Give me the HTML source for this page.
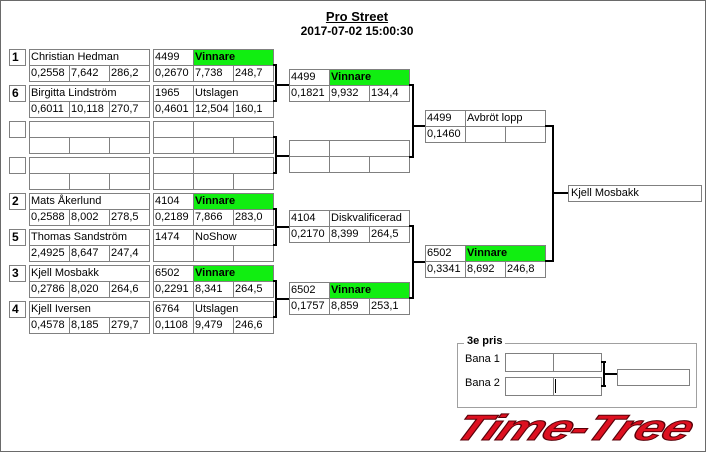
<!DOCTYPE html>
<html><head><meta charset="utf-8"><style>
body{margin:0;width:706px;height:452px;background:#fff;position:relative;overflow:hidden;font-family:"Liberation Sans",sans-serif}
#frame{position:absolute;left:0;top:0;width:706px;height:452px;box-sizing:border-box;border:1px solid #6a6a6a}
.c{position:absolute;border:1px solid #808080;box-sizing:border-box;height:17px;font-size:11px;line-height:15px;padding-left:1px;white-space:nowrap;overflow:hidden;color:#000;background:#fff}
.w{width:41px}.w2{width:81px}.wn{width:121px}
.g{background:#11ee11;font-weight:bold}
.s{width:17px;font-weight:bold;font-size:12px;padding-left:2px}
.v{position:absolute;background:#000;width:2px}
.h{position:absolute;background:#000;height:2px}
.t{position:absolute;font-size:12px;font-weight:bold;text-align:center;width:200px;left:257px}
</style></head><body>
<div id="frame"></div>
<div class="t" style="top:9px;text-decoration:underline;font-size:13px">Pro Street</div>
<div class="t" style="top:24px">2017-07-02 15:00:30</div>

<div class="c s" style="left:9px;top:49px">1</div>
<div class="c wn" style="left:29px;top:49px">Christian Hedman</div>
<div class="c w" style="left:29px;top:65px">0,2558</div><div class="c w" style="left:69px;top:65px">7,642</div><div class="c w" style="left:109px;top:65px">286,2</div>
<div class="c w" style="left:153px;top:49px">4499</div><div class="c w2 g" style="left:193px;top:49px">Vinnare</div>
<div class="c w" style="left:153px;top:65px">0,2670</div><div class="c w" style="left:193px;top:65px">7,738</div><div class="c w" style="left:233px;top:65px">248,7</div>
<div class="c s" style="left:9px;top:85px">6</div>
<div class="c wn" style="left:29px;top:85px">Birgitta Lindström</div>
<div class="c w" style="left:29px;top:101px">0,6011</div><div class="c w" style="left:69px;top:101px">10,118</div><div class="c w" style="left:109px;top:101px">270,7</div>
<div class="c w" style="left:153px;top:85px">1965</div><div class="c w2" style="left:193px;top:85px">Utslagen</div>
<div class="c w" style="left:153px;top:101px">0,4601</div><div class="c w" style="left:193px;top:101px">12,504</div><div class="c w" style="left:233px;top:101px">160,1</div>
<div class="c s" style="left:9px;top:121px"></div>
<div class="c wn" style="left:29px;top:121px"></div>
<div class="c w" style="left:29px;top:137px"></div><div class="c w" style="left:69px;top:137px"></div><div class="c w" style="left:109px;top:137px"></div>
<div class="c w" style="left:153px;top:121px"></div><div class="c w2" style="left:193px;top:121px"></div>
<div class="c w" style="left:153px;top:137px"></div><div class="c w" style="left:193px;top:137px"></div><div class="c w" style="left:233px;top:137px"></div>
<div class="c s" style="left:9px;top:157px"></div>
<div class="c wn" style="left:29px;top:157px"></div>
<div class="c w" style="left:29px;top:173px"></div><div class="c w" style="left:69px;top:173px"></div><div class="c w" style="left:109px;top:173px"></div>
<div class="c w" style="left:153px;top:157px"></div><div class="c w2" style="left:193px;top:157px"></div>
<div class="c w" style="left:153px;top:173px"></div><div class="c w" style="left:193px;top:173px"></div><div class="c w" style="left:233px;top:173px"></div>
<div class="c s" style="left:9px;top:193px">2</div>
<div class="c wn" style="left:29px;top:193px">Mats Åkerlund</div>
<div class="c w" style="left:29px;top:209px">0,2588</div><div class="c w" style="left:69px;top:209px">8,002</div><div class="c w" style="left:109px;top:209px">278,5</div>
<div class="c w" style="left:153px;top:193px">4104</div><div class="c w2 g" style="left:193px;top:193px">Vinnare</div>
<div class="c w" style="left:153px;top:209px">0,2189</div><div class="c w" style="left:193px;top:209px">7,866</div><div class="c w" style="left:233px;top:209px">283,0</div>
<div class="c s" style="left:9px;top:229px">5</div>
<div class="c wn" style="left:29px;top:229px">Thomas Sandström</div>
<div class="c w" style="left:29px;top:245px">2,4925</div><div class="c w" style="left:69px;top:245px">8,647</div><div class="c w" style="left:109px;top:245px">247,4</div>
<div class="c w" style="left:153px;top:229px">1474</div><div class="c w2" style="left:193px;top:229px">NoShow</div>
<div class="c w" style="left:153px;top:245px"></div><div class="c w" style="left:193px;top:245px"></div><div class="c w" style="left:233px;top:245px"></div>
<div class="c s" style="left:9px;top:265px">3</div>
<div class="c wn" style="left:29px;top:265px">Kjell Mosbakk</div>
<div class="c w" style="left:29px;top:281px">0,2786</div><div class="c w" style="left:69px;top:281px">8,020</div><div class="c w" style="left:109px;top:281px">264,6</div>
<div class="c w" style="left:153px;top:265px">6502</div><div class="c w2 g" style="left:193px;top:265px">Vinnare</div>
<div class="c w" style="left:153px;top:281px">0,2291</div><div class="c w" style="left:193px;top:281px">8,341</div><div class="c w" style="left:233px;top:281px">264,5</div>
<div class="c s" style="left:9px;top:301px">4</div>
<div class="c wn" style="left:29px;top:301px">Kjell Iversen</div>
<div class="c w" style="left:29px;top:317px">0,4578</div><div class="c w" style="left:69px;top:317px">8,185</div><div class="c w" style="left:109px;top:317px">279,7</div>
<div class="c w" style="left:153px;top:301px">6764</div><div class="c w2" style="left:193px;top:301px">Utslagen</div>
<div class="c w" style="left:153px;top:317px">0,1108</div><div class="c w" style="left:193px;top:317px">9,479</div><div class="c w" style="left:233px;top:317px">246,6</div>

<div class="h" style="left:273px;top:64px;width:4px"></div><div class="v" style="left:275px;top:64px;height:38px"></div><div class="h" style="left:273px;top:100px;width:4px"></div><div class="h" style="left:275px;top:84px;width:14px"></div>
<div class="h" style="left:273px;top:136px;width:4px"></div><div class="v" style="left:275px;top:136px;height:38px"></div><div class="h" style="left:273px;top:172px;width:4px"></div><div class="h" style="left:275px;top:155px;width:14px"></div>
<div class="h" style="left:273px;top:208px;width:4px"></div><div class="v" style="left:275px;top:208px;height:38px"></div><div class="h" style="left:273px;top:244px;width:4px"></div><div class="h" style="left:275px;top:226px;width:14px"></div>
<div class="h" style="left:273px;top:280px;width:4px"></div><div class="v" style="left:275px;top:280px;height:38px"></div><div class="h" style="left:273px;top:316px;width:4px"></div><div class="h" style="left:275px;top:298px;width:14px"></div>

<div class="c w" style="left:289px;top:69px">4499</div><div class="c w2 g" style="left:329px;top:69px">Vinnare</div>
<div class="c w" style="left:289px;top:85px">0,1821</div><div class="c w" style="left:329px;top:85px">9,932</div><div class="c w" style="left:369px;top:85px">134,4</div>
<div class="c w" style="left:289px;top:140px"></div><div class="c w2" style="left:329px;top:140px"></div>
<div class="c w" style="left:289px;top:156px"></div><div class="c w" style="left:329px;top:156px"></div><div class="c w" style="left:369px;top:156px"></div>
<div class="c w" style="left:289px;top:210px">4104</div><div class="c w2" style="left:329px;top:210px">Diskvalificerad</div>
<div class="c w" style="left:289px;top:226px">0,2170</div><div class="c w" style="left:329px;top:226px">8,399</div><div class="c w" style="left:369px;top:226px">264,5</div>
<div class="c w" style="left:289px;top:282px">6502</div><div class="c w2 g" style="left:329px;top:282px">Vinnare</div>
<div class="c w" style="left:289px;top:298px">0,1757</div><div class="c w" style="left:329px;top:298px">8,859</div><div class="c w" style="left:369px;top:298px">253,1</div>

<div class="h" style="left:409px;top:84px;width:5px"></div><div class="v" style="left:412px;top:84px;height:74px"></div><div class="h" style="left:409px;top:156px;width:5px"></div><div class="h" style="left:412px;top:125px;width:13px"></div>
<div class="h" style="left:409px;top:225px;width:5px"></div><div class="v" style="left:412px;top:225px;height:74px"></div><div class="h" style="left:409px;top:297px;width:5px"></div><div class="h" style="left:412px;top:261px;width:13px"></div>

<div class="c w" style="left:425px;top:110px">4499</div><div class="c w2" style="left:465px;top:110px">Avbröt lopp</div>
<div class="c w" style="left:425px;top:126px">0,1460</div><div class="c w" style="left:465px;top:126px"></div><div class="c w" style="left:505px;top:126px"></div>
<div class="c w" style="left:425px;top:245px">6502</div><div class="c w2 g" style="left:465px;top:245px">Vinnare</div>
<div class="c w" style="left:425px;top:261px">0,3341</div><div class="c w" style="left:465px;top:261px">8,692</div><div class="c w" style="left:505px;top:261px">246,8</div>

<div class="h" style="left:545px;top:125px;width:9px"></div><div class="v" style="left:552px;top:125px;height:137px"></div><div class="h" style="left:545px;top:260px;width:9px"></div><div class="h" style="left:552px;top:192px;width:17px"></div>
<div class="c" style="left:568px;top:185px;width:134px;height:17px;padding-left:2px">Kjell Mosbakk</div>

<div style="position:absolute;left:457px;top:343px;width:240px;height:65px;box-sizing:border-box;border:1px solid #a0a0a0"></div>
<div style="position:absolute;left:464px;top:335px;background:#fff;padding:0 3px;font-size:11px;font-weight:bold">3e pris</div>
<div style="position:absolute;left:465px;top:353px;font-size:11px">Bana 1</div>
<div style="position:absolute;left:465px;top:377px;font-size:11px">Bana 2</div>
<div class="c" style="left:505px;top:353px;width:49px;height:19px"></div><div class="c" style="left:553px;top:353px;width:49px;height:19px"></div>
<div class="c" style="left:505px;top:377px;width:49px;height:19px"></div><div class="c" style="left:553px;top:377px;width:49px;height:19px"></div>
<div style="position:absolute;left:555px;top:379px;width:1px;height:14px;background:#000"></div>
<div class="h" style="left:601px;top:361px;width:5px"></div><div class="v" style="left:603px;top:361px;height:26px"></div><div class="h" style="left:601px;top:385px;width:5px"></div><div class="h" style="left:603px;top:373px;width:15px"></div>
<div class="c" style="left:617px;top:369px;width:73px;height:17px"></div>

<div style="position:absolute;left:457px;top:408px;font-size:36px;font-weight:bold;font-style:italic;color:#dd1020;letter-spacing:-1px;transform-origin:0 50%;transform:scaleX(1.45) skewX(-18deg);-webkit-text-stroke:1px #5a0008;white-space:nowrap;line-height:40px">Time-Tree</div>
</body></html>
